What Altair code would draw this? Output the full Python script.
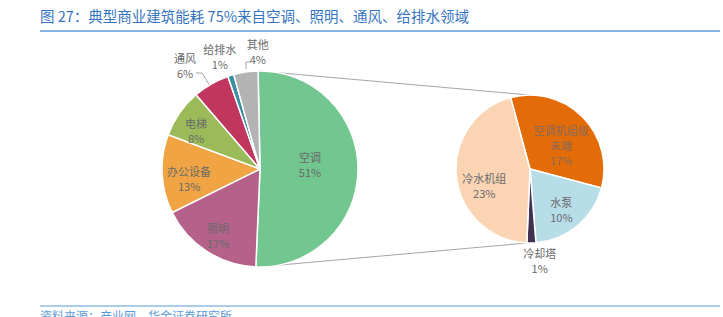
import math
import altair as alt
import pandas as pd

title_text = "图 27：典型商业建筑能耗 75%来自空调、照明、通风、给排水领域"
source_text = "资料来源：产业网，华金证券研究所"

main_cats = ["空调", "照明", "办公设备", "电梯", "通风", "给排水", "其他"]
main_vals = [51, 17, 13, 8, 6, 1, 4]
main_colors = ["#72C68F", "#B5618A", "#F0A443", "#9BBB59", "#C0365F", "#3A8FA3", "#B3B3B3"]

sub_cats = ["空调机组级末端", "水泵", "冷却塔", "冷水机组"]
sub_names = ["空调机组级\n末端", "水泵", "冷却塔", "冷水机组"]
sub_vals = [17, 10, 1, 23]
sub_colors = ["#E36C09", "#B7DEE8", "#403152", "#FBD4B4"]

main_df = pd.DataFrame({
    "cat": main_cats,
    "val": main_vals,
    "idx": list(range(len(main_cats))),
    "label": [f"{c}\n{v}%" for c, v in zip(main_cats, main_vals)],
})
sub_df = pd.DataFrame({
    "scat": sub_cats,
    "sval": sub_vals,
    "sidx": list(range(len(sub_cats))),
    "slabel": [f"{n}\n{v}%" for n, v in zip(sub_names, sub_vals)],
})

FONT = "Noto Sans CJK SC"
LABEL_COLOR = "#6A6A6A"
TWO_PI = 2 * math.pi
MAIN_START = -0.02
SUB_START = -0.265

# main pie
mcx, mcy, mr = 260, 169, 98
main_base = alt.Chart(main_df).encode(
    theta=alt.Theta("val:Q", stack=True, scale=alt.Scale(range=[MAIN_START, MAIN_START + TWO_PI])),
    order=alt.Order("idx:Q"),
    x=alt.value(mcx),
    y=alt.value(mcy),
)
main_arc = main_base.mark_arc(outerRadius=mr, stroke="white", strokeWidth=1.5).encode(
    color=alt.Color("cat:N", scale=alt.Scale(domain=main_cats, range=main_colors), legend=None)
)


def label_layer(base, field, cats, keyfield, radius, dx=0, dy=0, color=LABEL_COLOR):
    arr = "[" + ",".join(f"'{c}'" for c in cats) + "]"
    return base.transform_calculate(
        lab=f"indexof({arr}, datum.{keyfield}) >= 0 ? datum.{field} : ''"
    ).mark_text(
        radius=radius, font=FONT, fontSize=11, color=color,
        lineBreak="\n", lineHeight=15, dx=dx, dy=dy, align="center", baseline="middle",
    ).encode(text="lab:N")


main_lab_center = label_layer(main_base, "label", ["空调"], "cat", 50, dy=-11)
main_lab_zm = label_layer(main_base, "label", ["照明"], "cat", 73, dx=-2, dy=0)
main_lab_bg = label_layer(main_base, "label", ["办公设备"], "cat", 73, dx=2, dy=0)
main_lab_dt = label_layer(main_base, "label", ["电梯"], "cat", 73, dx=-4, dy=-2)
main_lab_tf = label_layer(main_base, "label", ["通风"], "cat", 122, dx=-14, dy=-3)
main_lab_gp = label_layer(main_base, "label", ["给排水"], "cat", 118, dx=-5, dy=-5)
main_lab_qt = label_layer(main_base, "label", ["其他"], "cat", 118, dx=15, dy=-6)

# sub pie
scx, scy, sr = 530, 169, 74
sub_base = alt.Chart(sub_df).encode(
    theta=alt.Theta("sval:Q", stack=True, scale=alt.Scale(range=[SUB_START, SUB_START + TWO_PI])),
    order=alt.Order("sidx:Q"),
    x=alt.value(scx),
    y=alt.value(scy),
)
sub_arc = sub_base.mark_arc(outerRadius=sr, stroke="white", strokeWidth=1.5).encode(
    color=alt.Color("scat:N", scale=alt.Scale(domain=sub_cats, range=sub_colors), legend=None)
)
sub_lab_a = label_layer(sub_base, "slabel", ["空调机组级末端"], "scat", 40, dx=3, dy=-9, color="#8A6A58")
sub_lab_b = label_layer(sub_base, "slabel", ["水泵"], "scat", 52, dx=-2, dy=-5)
sub_lab_c = label_layer(sub_base, "slabel", ["冷水机组"], "scat", 46, dx=0, dy=6)
sub_lab_d = label_layer(sub_base, "slabel", ["冷却塔"], "scat", 91, dx=8, dy=-5)


def rule(x1, y1, x2, y2, color="#A6A6A6", w=1.0):
    return alt.Chart(pd.DataFrame({"k": [0]})).mark_rule(color=color, strokeWidth=w).encode(
        x=alt.value(x1), y=alt.value(y1), x2=alt.value(x2), y2=alt.value(y2)
    )


connectors = [
    rule(259, 71, 529, 95),
    rule(258, 267, 527, 243),
    rule(196, 73, 202, 73),
    rule(202, 73, 210, 86),
    rule(246, 62, 251, 62),
    rule(246, 62, 246, 69),
]

title = alt.Chart(pd.DataFrame({"t": [title_text]})).mark_text(
    font=FONT, fontSize=14.5, color="#3574C0", align="left", baseline="middle"
).encode(text="t:N", x=alt.value(40), y=alt.value(18))
source = alt.Chart(pd.DataFrame({"t": [source_text]})).mark_text(
    font=FONT, fontSize=12, color="#5B9BD5", align="left", baseline="top"
).encode(text="t:N", x=alt.value(40), y=alt.value(312))

lines = [rule(40, 31, 720, 31, color="#5B9BD5", w=1.5), rule(40, 306, 720, 306, color="#5B9BD5", w=1.2)]

chart = alt.layer(
    *connectors,
    main_arc, main_lab_center, main_lab_zm, main_lab_bg, main_lab_dt, main_lab_tf, main_lab_gp, main_lab_qt,
    sub_arc, sub_lab_a, sub_lab_b, sub_lab_c, sub_lab_d,
    title, source, *lines,
).resolve_scale(theta="independent", color="independent").properties(
    width=723, height=317, padding=0, autosize="none", background="white"
).configure_view(stroke=None)

chart.save("out.html", embed_options={"renderer": "svg", "actions": False})
